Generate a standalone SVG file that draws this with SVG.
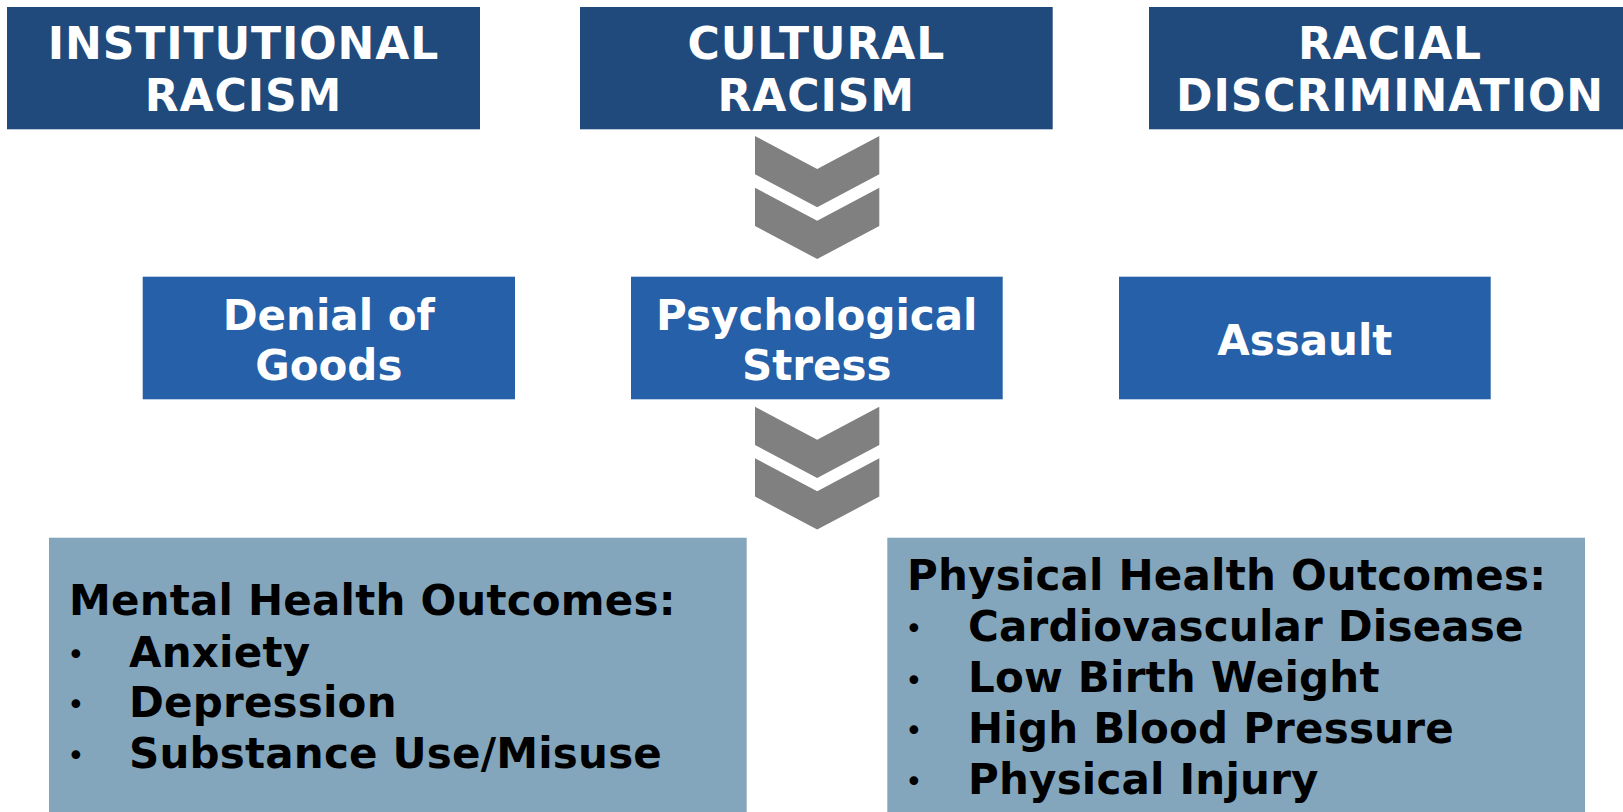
<svg xmlns="http://www.w3.org/2000/svg" xmlns:xlink="http://www.w3.org/1999/xlink" width="1623" height="812" viewBox="0 0 1623 812">
<style>
.top{fill:#214A7C}
.mid{fill:#2560A8}
.bot{fill:#84A6BC}
.chev{fill:#808080}
.wt{font-family:"DejaVu Sans","Verdana",sans-serif;font-weight:bold;fill:#FFFFFF;text-anchor:middle}
.t1{font-size:44px;letter-spacing:0.9px}
.t2{font-size:42px}
.bt{font-family:"DejaVu Sans","Verdana",sans-serif;font-weight:bold;fill:#000000;font-size:42px;letter-spacing:0.2px}
.bul{font-family:"DejaVu Sans",sans-serif;fill:#000000;font-size:30px}
</style>
<defs>
<path id="chevron" d="M0,0 L62.2,33 L124.3,0 L124.3,38.3 L62.2,71.3 L0,38.3 Z"/>
</defs>
<rect width="1623" height="812" fill="#FFFFFF"/>
<g id="connectors">
<use xlink:href="#chevron" class="chev" transform="translate(755,136)"/>
<use xlink:href="#chevron" class="chev" transform="translate(755,187.7)"/>
<use xlink:href="#chevron" class="chev" transform="translate(755,406.7)"/>
<use xlink:href="#chevron" class="chev" transform="translate(755,458.3)"/>
</g>
<g id="institutional-racism">
<rect class="top" x="7" y="7" width="473" height="122.3"/>
<text class="wt t1" x="243.5" y="58.5">INSTITUTIONAL</text>
<text class="wt t1" x="243.5" y="110.5">RACISM</text>
</g>
<g id="cultural-racism">
<rect class="top" x="580" y="7" width="472.7" height="122.3"/>
<text class="wt t1" x="816.3" y="59">CULTURAL</text>
<text class="wt t1" x="816.3" y="110.5">RACISM</text>
</g>
<g id="racial-discrimination">
<rect class="top" x="1149" y="7" width="482" height="122.3"/>
<text class="wt t1" x="1390" y="59">RACIAL</text>
<text class="wt t1" x="1390" y="110.5">DISCRIMINATION</text>
</g>
<g id="denial-of-goods">
<rect class="mid" x="142.7" y="276.7" width="372.3" height="122.6"/>
<text class="wt t2" x="328.8" y="330">Denial of</text>
<text class="wt t2" x="328.8" y="380">Goods</text>
</g>
<g id="psychological-stress">
<rect class="mid" x="631" y="276.7" width="371.7" height="122.6"/>
<text class="wt t2" x="816.8" y="330">Psychological</text>
<text class="wt t2" x="816.8" y="379.5">Stress</text>
</g>
<g id="assault">
<rect class="mid" x="1119" y="276.7" width="371.7" height="122.6"/>
<text class="wt t2" x="1304.8" y="355">Assault</text>
</g>
<g id="mental-health-outcomes">
<rect class="bot" x="49" y="537.7" width="697.7" height="280"/>
<text class="bt" x="69" y="615">Mental Health Outcomes:</text>
<text class="bul" x="67" y="665">•</text>
<text class="bt" x="129" y="666.7">Anxiety</text>
<text class="bul" x="67" y="715">•</text>
<text class="bt" x="129" y="716.7">Depression</text>
<text class="bul" x="67" y="766">•</text>
<text class="bt" x="129" y="767.7">Substance Use/Misuse</text>
</g>
<g id="physical-health-outcomes">
<rect class="bot" x="887.3" y="537.7" width="697.7" height="280"/>
<text class="bt" x="907" y="590">Physical Health Outcomes:</text>
<text class="bul" x="905" y="639">•</text>
<text class="bt" x="968" y="640.7">Cardiovascular Disease</text>
<text class="bul" x="905" y="691">•</text>
<text class="bt" x="968" y="692.3">Low Birth Weight</text>
<text class="bul" x="905" y="741">•</text>
<text class="bt" x="968" y="742.7">High Blood Pressure</text>
<text class="bul" x="905" y="792">•</text>
<text class="bt" x="968" y="794">Physical Injury</text>
</g>
</svg>
